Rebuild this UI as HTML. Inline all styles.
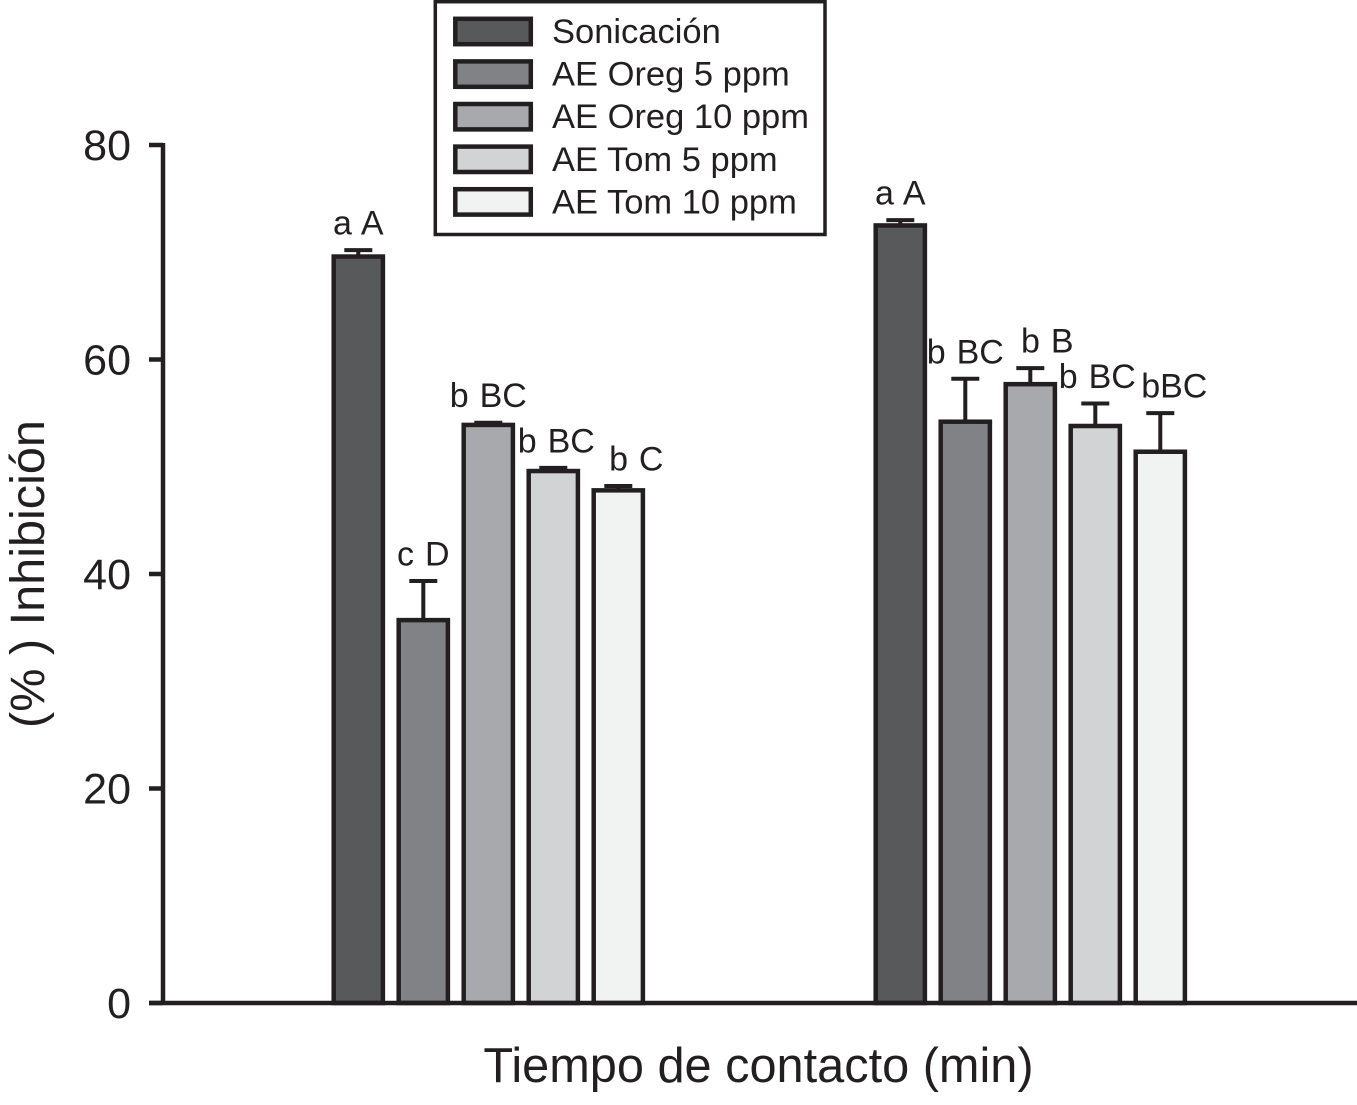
<!DOCTYPE html>
<html lang="es">
<head>
<meta charset="utf-8">
<title>Inhibición frente a tiempo de contacto</title>
<style>
  html, body { margin: 0; padding: 0; background: #fff; }
  body { width: 1357px; height: 1105px; overflow: hidden; }
  svg { display: block; }
  text { font-family: "Liberation Sans", Arial, sans-serif; fill: #231f20; }
</style>
</head>
<body>
<svg id="chart" xmlns="http://www.w3.org/2000/svg" width="1357" height="1105" viewBox="0 0 1357 1105"></svg>
<script>
const categories = ["Tiempo 1", "Tiempo 2"];
const seriesNames = ["Sonicación", "AE Oreg 5 ppm", "AE Oreg 10 ppm", "AE Tom 5 ppm", "AE Tom 10 ppm"];
const sonicacion = [69.6, 72.5];
const oreg5 = [35.7, 54.2];
const oreg10 = [53.9, 57.7];
const tom5 = [49.6, 53.8];
const tom10 = [47.8, 51.4];
const sonicacionErr = [0.6, 0.5];
const oreg5Err = [3.65, 4.0];
const oreg10Err = [0.2, 1.5];
const tom5Err = [0.3, 2.1];
const tom10Err = [0.4, 3.6];
const sonicacionLabels = ["a A", "a A"];
const oreg5Labels = ["c D", "b BC"];
const oreg10Labels = ["b BC", "b B"];
const tom5Labels = ["b BC", "b BC"];
const tom10Labels = ["b C", "bBC"];
const yTicks = [0, 20, 40, 60, 80];

const seriesValues = [sonicacion, oreg5, oreg10, tom5, tom10];
const seriesErrors = [sonicacionErr, oreg5Err, oreg10Err, tom5Err, tom10Err];
const seriesLabels = [sonicacionLabels, oreg5Labels, oreg10Labels, tom5Labels, tom10Labels];
const fills = ["#58595b", "#808285", "#a7a9ac", "#d1d3d4", "#f1f2f2"];

const svg = document.getElementById('chart');
const NS = 'http://www.w3.org/2000/svg';
const INK = '#231f20';
const yScale = v => 1003 - (v / 80) * 858;
const xScale = (g, s) => 358.3 + g * 542 + s * 65;

function make(tag, attrs, text) {
  const el = document.createElementNS(NS, tag);
  for (const k in attrs) el.setAttribute(k, attrs[k]);
  if (text !== undefined) el.textContent = text;
  svg.appendChild(el);
  return el;
}

function drawBars() {
  // small horizontal nudges keeping annotations from colliding, [group][series]
  const labelNudge = [[0, 0, 0, 3, 18], [0, 0, 17, 2, 14]];
  categories.forEach((cat, g) => {
    seriesValues.forEach((vals, s) => {
      const cx = xScale(g, s);
      const top = yScale(vals[g]);
      const errTop = yScale(vals[g] + seriesErrors[s][g]);

      const stem = make('line', { x1: cx, x2: cx, y1: top, y2: errTop, stroke: INK, 'stroke-width': 4 });
      
      
      const cap = make('line', { x1: cx - 14, x2: cx + 14, y1: errTop, y2: errTop, stroke: INK, 'stroke-width': 4 });
      
      

      const bar = make('rect', { x: cx - 24.6, y: top, width: 49.2, height: yScale(0) - top, fill: fills[s], stroke: INK, 'stroke-width': 4.5 });
      
      

      const label = make('text', {
        x: cx + labelNudge[g][s],
        y: yScale(vals[g] + seriesErrors[s][g] + 1.45),
        'text-anchor': 'middle',
        'font-size': 34,
        'word-spacing': 1.5
      }, seriesLabels[s][g]);
      
      
    });
  });
}

function drawAxes() {
  const yAxis = make('line', { x1: 163, x2: 163, y1: yScale(80) - 2, y2: yScale(0), stroke: INK, 'stroke-width': 4.5 });
  
  
  const xAxis = make('line', { x1: 149, x2: 1357, y1: yScale(0), y2: yScale(0), stroke: INK, 'stroke-width': 4.5 });
  
  

  yTicks.forEach(t => {
    const tick = make('line', { x1: 149, x2: 163, y1: yScale(t), y2: yScale(t), stroke: INK, 'stroke-width': 4.5 });
    
    
    const lab = make('text', { x: 131, y: yScale(t) + 15, 'text-anchor': 'end', 'font-size': 43 }, String(t));
    
    
  });

  const xTitle = make('text', { x: 758.5, y: 1082, 'text-anchor': 'middle', 'font-size': 48.7 }, 'Tiempo de contacto (min)');
  
  
  const yTitle = make('text', { x: 0, y: 0, 'text-anchor': 'middle', 'font-size': 48.6, transform: 'translate(44 574) rotate(-90)' }, '(% ) Inhibición');
  
  
}

function drawLegend() {
  const box = make('rect', { x: 435.3, y: 1.7, width: 389.7, height: 232.8, fill: '#fff', stroke: INK, 'stroke-width': 3.5 });
  
  
  seriesNames.forEach((name, s) => {
    const rowY = 18.8 + s * 42.6;
    const swatch = make('rect', { x: 455.3, y: rowY, width: 75.5, height: 25.4, fill: fills[s], stroke: INK, 'stroke-width': 4.5 });
    
    
    const lab = make('text', { x: 552, y: rowY + 24.2, 'font-size': 34.5 }, name);
    
    
  });
}

drawBars();
drawAxes();
drawLegend();
</script>
</body>
</html>
